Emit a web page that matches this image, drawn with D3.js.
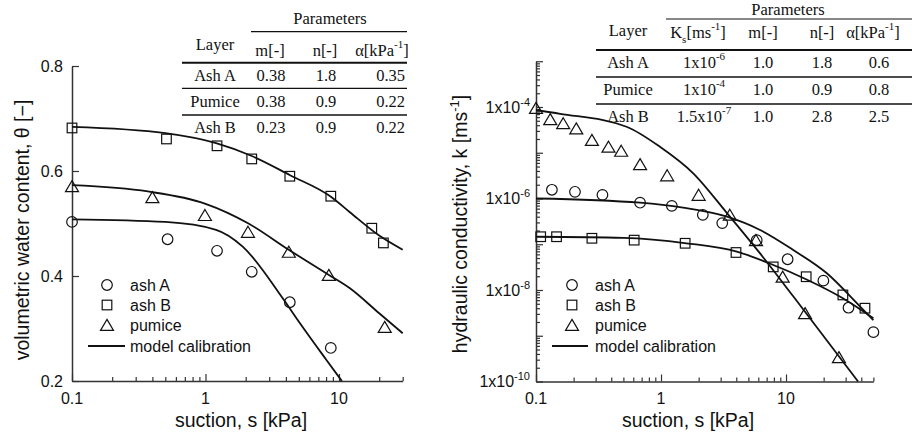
<!DOCTYPE html>
<html>
<head>
<meta charset="utf-8">
<script src="https://cdn.jsdelivr.net/npm/d3@7"></script>
<style>
  body { margin: 0; background: #fff; }
  svg { display: block; }
</style>
</head>
<body>
<svg id="chart" width="912" height="437"></svg>
<script>
// ---------- Water retention: suction s [kPa] vs volumetric water content θ ----------
const retAshA_s        = [0.1, 0.52, 1.22, 2.22, 4.28, 8.68];
const retAshA_theta    = [0.503, 0.470, 0.448, 0.408, 0.350, 0.263];
const retAshB_s        = [0.1, 0.51, 1.22, 2.22, 4.28, 8.68, 17.6, 21.5];
const retAshB_theta    = [0.682, 0.661, 0.648, 0.623, 0.590, 0.552, 0.491, 0.463];
const retPumice_s      = [0.1, 0.4, 0.99, 2.08, 4.21, 8.39, 22];
const retPumice_theta  = [0.571, 0.550, 0.516, 0.484, 0.446, 0.402, 0.303];

// model calibration curves (retention)
const fitRetAshA_s       = [0.1, 0.5, 1.2, 1.9, 3.8, 5.1, 8, 10.5];
const fitRetAshA_theta   = [0.508, 0.503, 0.488, 0.456, 0.357, 0.310, 0.241, 0.2];
const fitRetAshB_s       = [0.1, 0.5, 1.2, 2.2, 4.3, 8.7, 12, 20, 30];
const fitRetAshB_theta   = [0.684, 0.672, 0.653, 0.629, 0.592, 0.551, 0.522, 0.477, 0.450];
const fitRetPumice_s     = [0.1, 0.37, 0.99, 2.1, 4.2, 8.4, 12, 20, 30];
const fitRetPumice_theta = [0.573, 0.561, 0.538, 0.500, 0.450, 0.402, 0.377, 0.329, 0.291];

// ---------- Hydraulic conductivity: suction s [kPa] vs k [m/s] ----------
const condAshA_s   = [0.134, 0.205, 0.34, 0.68, 1.22, 2.16, 3.09, 5.83, 10.3, 19.9, 31.6, 50];
const condAshA_k   = [1.55e-6, 1.4e-6, 1.2e-6, 8.1e-7, 6.9e-7, 4.4e-7, 2.9e-7, 1.23e-7, 4.7e-8, 1.6e-8, 4.1e-9, 1.2e-9];
const condAshB_s   = [0.109, 0.146, 0.28, 0.61, 1.56, 3.98, 7.9, 14.5, 28.5, 42.8];
const condAshB_k   = [1.46e-7, 1.46e-7, 1.35e-7, 1.23e-7, 1.05e-7, 6.6e-8, 3.2e-8, 1.95e-8, 7.8e-9, 4.0e-9];
const condPumice_s = [0.1, 0.13, 0.165, 0.21, 0.28, 0.38, 0.48, 0.68, 1.12, 2.0, 3.55, 5.75, 9.4, 14.2, 26.5];
const condPumice_k = [9.5e-5, 5.4e-5, 4.4e-5, 3.4e-5, 1.9e-5, 1.35e-5, 1.1e-5, 5.6e-6, 3.2e-6, 1.2e-6, 4.4e-7, 1.23e-7, 1.95e-8, 3.1e-9, 3.4e-10];

// model calibration curves (conductivity)
const fitCondAshA_s   = [0.1, 0.68, 1.5, 3.37, 6.2, 11.5, 21.1, 39, 50];
const fitCondAshA_k   = [1.0e-6, 8.1e-7, 6.3e-7, 4.0e-7, 2.05e-7, 7.4e-8, 2.35e-8, 4.4e-9, 2.2e-9];
const fitCondAshB_s   = [0.1, 0.5, 1.6, 4.04, 7.4, 14.6, 28.5, 50];
const fitCondAshB_k   = [1.46e-7, 1.38e-7, 1.05e-7, 6.9e-8, 3.8e-8, 1.7e-8, 6.6e-9, 2.4e-9];
const fitCondPumice_s = [0.1, 0.156, 0.53, 0.98, 1.81, 3.37, 6.2, 11.5, 37.7];
const fitCondPumice_k = [8.5e-5, 7.1e-5, 3.7e-5, 1.35e-5, 3.55e-6, 4.8e-7, 6.3e-8, 7.1e-9, 1e-10];

// ---------- tick labels ----------
const suctionTicks      = [0.1, 1, 10];
const suctionTickLabels = ["0.1", "1", "10"];
const thetaTicks        = [0.2, 0.4, 0.6, 0.8];
const thetaTickLabels   = ["0.2", "0.4", "0.6", "0.8"];
const condTickExps      = [-10, -8, -6, -4];

// ---------- parameter tables ----------
const retTableHead  = ["Layer", "m[-]", "n[-]"];
const retTableRows  = [["Ash A", "0.38", "1.8", "0.35"],
                       ["Pumice", "0.38", "0.9", "0.22"],
                       ["Ash B", "0.23", "0.9", "0.22"]];
const condTableRows = [["Ash A",  "1x10",   "-6", "1.0", "1.8", "0.6"],
                       ["Pumice", "1x10",   "-4", "1.0", "0.9", "0.8"],
                       ["Ash B",  "1.5x10", "-7", "1.0", "2.8", "2.5"]];

const legendLabels = ["ash A", "ash B", "pumice"];
const legendLineLabel = "model calibration";

// ---------- setup ----------
const svg = d3.select("#chart");
const SANS = "'Liberation Sans', Arial, Helvetica, sans-serif";
const SERIF = "'Liberation Serif', 'Times New Roman', Times, serif";
const INK = "#111";
const AXIS = "#333";

const xL = d3.scaleLog().domain([0.1, 30]).range([72, 402.7]);
const yL = d3.scaleLinear().domain([0.2, 0.8]).range([381, 66]);
const xR = d3.scaleLog().domain([0.1, 50]).range([536, 873.4]);
const yR = d3.scaleLog().domain([1e-10, 1e-3]).range([381.5, 61.25]);

const isDecade = v => Math.abs(Math.log10(v) - Math.round(Math.log10(v))) < 1e-6;
const zip = (a, b) => a.map((v, i) => [v, b[i]]);

// marker drawing
function marker(g, type, x, y) {
  const st = { fill: "none", stroke: INK, "stroke-width": 1.2 };
  let el;
  if (type === "circle") {
    el = g.append("circle").attr("cx", x).attr("cy", y).attr("r", 5.3);
  } else if (type === "square") {
    el = g.append("rect").attr("x", x - 4.8).attr("y", y - 4.8).attr("width", 9.6).attr("height", 9.6);
  } else {
    el = g.append("path").attr("d", `M${x},${y - 5.6}L${x + 6.5},${y + 5.4}L${x - 6.5},${y + 5.4}Z`);
  }
  Object.entries(st).forEach(([k, v]) => el.attr(k, v));
}

function drawSeries(g, xs, ys, xScale, yScale, type) {
  zip(xs, ys).forEach(([s, v]) => marker(g, type, xScale(s), yScale(v)));
}

function drawCurve(g, xs, ys, xScale, yScale) {
  const line = d3.line().x(d => xScale(d[0])).y(d => yScale(d[1])).curve(d3.curveMonotoneX);
  g.append("path").datum(zip(xs, ys)).attr("d", line)
    .attr("fill", "none").attr("stroke", INK).attr("stroke-width", 1.8);
}

function styleAxis(g) {
  g.select(".domain").attr("stroke", AXIS).attr("stroke-width", 1.5);
  g.selectAll(".tick line").attr("stroke", AXIS).attr("stroke-width", 1.2);
  g.selectAll(".tick text").remove();
}

// ================= LEFT: water retention =================
const left = svg.append("g");

// axes
const gxL = left.append("g").attr("transform", `translate(0,${yL(0.2)})`)
  .call(d3.axisBottom(xL).tickValues(xL.ticks()).tickSizeOuter(0).tickFormat(""));
styleAxis(gxL);
gxL.selectAll(".tick line").attr("y2", d => isDecade(d) ? -7 : -4);

const gyL = left.append("g").attr("transform", `translate(${xL(0.1)},0)`)
  .call(d3.axisLeft(yL).tickValues(thetaTicks).tickSizeOuter(0).tickSizeInner(-7).tickFormat(""));
styleAxis(gyL);

left.selectAll("text.xtick").data(suctionTicks).join("text")
  .attr("x", d => xL(d)).attr("y", 404).attr("text-anchor", "middle")
  .attr("font-family", SANS).attr("font-size", 16).attr("fill", INK)
  .text((d, i) => suctionTickLabels[i]);
left.selectAll("text.ytick").data(thetaTicks).join("text")
  .attr("x", 63).attr("y", d => yL(d) + 5.5).attr("text-anchor", "end")
  .attr("font-family", SANS).attr("font-size", 16).attr("fill", INK)
  .text((d, i) => thetaTickLabels[i]);

left.append("text").attr("x", 241).attr("y", 427).attr("text-anchor", "middle")
  .attr("font-family", SANS).attr("font-size", 19.5).attr("fill", INK)
  .text("suction, s [kPa]");
left.append("text").attr("transform", "translate(29,230) rotate(-90)").attr("text-anchor", "middle")
  .attr("font-family", SANS).attr("font-size", 19.5).attr("fill", INK)
  .text("volumetric water content, θ [−]");

// curves and data
drawCurve(left, fitRetAshB_s, fitRetAshB_theta, xL, yL);
drawCurve(left, fitRetPumice_s, fitRetPumice_theta, xL, yL);
drawCurve(left, fitRetAshA_s, fitRetAshA_theta, xL, yL);
drawSeries(left, retAshA_s, retAshA_theta, xL, yL, "circle");
drawSeries(left, retAshB_s, retAshB_theta, xL, yL, "square");
drawSeries(left, retPumice_s, retPumice_theta, xL, yL, "triangle");

// ================= RIGHT: hydraulic conductivity =================
const right = svg.append("g");

const gxR = right.append("g").attr("transform", `translate(0,${yR(1e-10)})`)
  .call(d3.axisBottom(xR).tickValues(xR.ticks()).tickSizeOuter(0).tickFormat(""));
styleAxis(gxR);
gxR.selectAll(".tick line").attr("y2", d => isDecade(d) ? -7 : -4);

const gyR = right.append("g").attr("transform", `translate(${xR(0.1)},0)`)
  .call(d3.axisLeft(yR).tickValues(yR.ticks()).tickSizeOuter(0).tickFormat(""));
styleAxis(gyR);
gyR.selectAll(".tick line").attr("x2", d => isDecade(d) ? 7 : 4);

right.selectAll("text.xtick").data(suctionTicks).join("text")
  .attr("x", d => xR(d)).attr("y", 404).attr("text-anchor", "middle")
  .attr("font-family", SANS).attr("font-size", 16).attr("fill", INK)
  .text((d, i) => suctionTickLabels[i]);

const yTickText = right.selectAll("text.ytick").data(condTickExps).join("text")
  .attr("x", 530).attr("y", d => yR(Math.pow(10, d)) + 5.5).attr("text-anchor", "end")
  .attr("font-family", SANS).attr("font-size", 16).attr("fill", INK);
yTickText.append("tspan").text("1x10");
yTickText.append("tspan").attr("dy", -7).attr("font-size", 11).text(d => String(d));

right.append("text").attr("x", 688).attr("y", 427).attr("text-anchor", "middle")
  .attr("font-family", SANS).attr("font-size", 19.5).attr("fill", INK)
  .text("suction, s [kPa]");
const yTitleR = right.append("text").attr("transform", "translate(467,224) rotate(-90)")
  .attr("text-anchor", "middle").attr("font-family", SANS).attr("font-size", 19.5).attr("fill", INK);
yTitleR.append("tspan").text("hydraulic conductivity, k [ms");
yTitleR.append("tspan").attr("dy", -8).attr("font-size", 13).text("-1");
yTitleR.append("tspan").attr("dy", 8).text("]");

drawCurve(right, fitCondPumice_s, fitCondPumice_k, xR, yR);
drawCurve(right, fitCondAshA_s, fitCondAshA_k, xR, yR);
drawCurve(right, fitCondAshB_s, fitCondAshB_k, xR, yR);
drawSeries(right, condAshA_s, condAshA_k, xR, yR, "circle");
drawSeries(right, condAshB_s, condAshB_k, xR, yR, "square");
drawSeries(right, condPumice_s, condPumice_k, xR, yR, "triangle");

// ================= legends =================
const legendTypes = ["circle", "square", "triangle"];
[[107, 130, 88, 125], [572, 595, 552, 588]].forEach(([mx, tx, l0, l1]) => {
  const lg = svg.append("g");
  legendLabels.forEach((lab, i) => {
    const y = 285 + i * 20;
    marker(lg, legendTypes[i], mx, y);
    lg.append("text").attr("x", tx).attr("y", y + 6).attr("font-family", SANS)
      .attr("font-size", 16).attr("fill", INK).text(lab);
  });
  lg.append("line").attr("x1", l0).attr("x2", l1).attr("y1", 346).attr("y2", 346)
    .attr("stroke", INK).attr("stroke-width", 1.8);
  lg.append("text").attr("x", tx).attr("y", 352).attr("font-family", SANS)
    .attr("font-size", 16).attr("fill", INK).text(legendLineLabel);
});

// ================= parameter tables =================
function txt(g, x, y, s, anchor = "middle") {
  return g.append("text").attr("x", x).attr("y", y).attr("text-anchor", anchor)
    .attr("font-family", SERIF).attr("font-size", 16.5).attr("fill", INK).text(s);
}
function rule(g, x1, x2, y, w) {
  g.append("line").attr("x1", x1).attr("x2", x2).attr("y1", y).attr("y2", y)
    .attr("stroke", INK).attr("stroke-width", w);
}

// retention table
const tL = svg.append("g");
txt(tL, 330, 24, "Parameters");
rule(tL, 251, 407, 31.7, 1.2);
txt(tL, 215, 50, retTableHead[0]);
txt(tL, 270, 56, retTableHead[1]);
txt(tL, 325, 56, retTableHead[2]);
const alphaL = txt(tL, 382, 56, "α[kPa");
alphaL.append("tspan").attr("dy", -8).attr("font-size", 11).text("-1");
alphaL.append("tspan").attr("dy", 8).text("]");
rule(tL, 182, 407, 62.7, 2);
rule(tL, 182, 407, 88.3, 1.3);
rule(tL, 182, 407, 115, 1.3);
retTableRows.forEach((r, i) => {
  const y = 81 + i * 26.2;
  txt(tL, 215, y, r[0]);
  txt(tL, 271, y, r[1]);
  txt(tL, 326, y, r[2]);
  txt(tL, 405, y, r[3], "end");
});

// conductivity table
const tR = svg.append("g");
txt(tR, 788, 15, "Parameters");
rule(tR, 666, 912, 19, 1.2);
txt(tR, 628, 36, "Layer");
const ksH = txt(tR, 698, 38, "K");
ksH.append("tspan").attr("dy", 5).attr("font-size", 11).text("s");
ksH.append("tspan").attr("dy", -5).text("[ms");
ksH.append("tspan").attr("dy", -8).attr("font-size", 11).text("-1");
ksH.append("tspan").attr("dy", 8).text("]");
txt(tR, 763, 38, "m[-]");
txt(tR, 822, 38, "n[-]");
const alphaR = txt(tR, 873, 38, "α[kPa");
alphaR.append("tspan").attr("dy", -8).attr("font-size", 11).text("-1");
alphaR.append("tspan").attr("dy", 8).text("]");
rule(tR, 596, 912, 50, 2);
rule(tR, 596, 912, 77, 1.3);
rule(tR, 596, 912, 104, 1.3);
condTableRows.forEach((r, i) => {
  const y = 68 + i * 27;
  txt(tR, 628, y, r[0]);
  const ks = txt(tR, 704, y, r[1]);
  ks.append("tspan").attr("dy", -8).attr("font-size", 11).text(r[2]);
  txt(tR, 763, y, r[3]);
  txt(tR, 822, y, r[4]);
  txt(tR, 879, y, r[5]);
});
</script>
</body>
</html>
